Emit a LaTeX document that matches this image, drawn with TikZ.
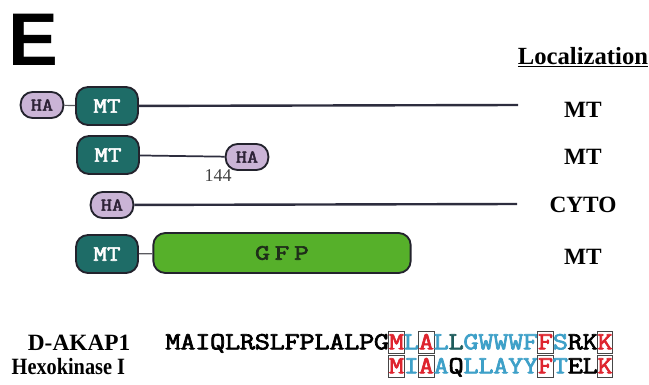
\documentclass[tikz,border=0pt]{standalone}
\usepackage{fontspec}
\usepackage{graphicx}
\setmainfont{Liberation Serif}
\newfontfamily\headfont{Liberation Sans}
\newfontfamily\seqfont{Latin Modern Mono}[FakeBold=2.5]

\definecolor{mtteal}{RGB}{30,108,103}
\definecolor{halav}{RGB}{202,180,214}
\definecolor{hatext}{RGB}{45,35,55}
\definecolor{gfpgreen}{RGB}{86,176,42}
\definecolor{gfptext}{RGB}{30,45,25}
\definecolor{edgedark}{RGB}{35,35,45}
\definecolor{linedark}{RGB}{45,45,62}
\definecolor{linkgray}{RGB}{90,90,95}
\definecolor{aablue}{RGB}{62,160,200}
\definecolor{aateal}{RGB}{30,92,92}
\definecolor{aared}{RGB}{222,36,46}
\definecolor{boxgray}{RGB}{70,70,70}

\newcommand{\wide}[1]{\scalebox{1.2}[1]{#1}}

\tikzset{
  dom/.style={rectangle, rounded corners=9pt, draw=edgedark, line width=1.4pt, inner sep=0pt,
    font=\seqfont\fontsize{16.5}{16.5}\selectfont},
  mtbox/.style={dom, fill=mtteal, text=white, minimum width=46.5pt, minimum height=28.5pt},
  habox/.style={dom, rounded corners=9pt, fill=halav, text=hatext, minimum width=32pt, minimum height=19.5pt,
    font=\seqfont\fontsize{13.5}{13.5}\selectfont},
  gfpbox/.style={dom, fill=gfpgreen, text=gfptext, minimum width=193pt, minimum height=30pt},
  chain/.style={draw=linedark, line width=1.8pt},
  link/.style={draw=linkgray, line width=0.9pt},
  loc/.style={font=\bfseries\fontsize{17.5}{17.5}\selectfont},
  aa/.style={inner sep=0pt, minimum width=11.25pt, minimum height=16.5pt, text height=11pt, text depth=0pt,
    font=\seqfont\fontsize{18.5}{18.5}\selectfont},
  aak/.style={aa, text=black},
  aab/.style={aa, text=aablue},
  aat/.style={aa, text=aateal},
  aar/.style={aa, text=aared, draw=boxgray, line width=0.6pt}
}

\begin{document}
\begin{tikzpicture}[x=0.75pt, y=-0.75pt]
  \useasboundingbox (0,0) rectangle (649,385);

  \node[font=\headfont\bfseries\fontsize{56}{56}\selectfont] (panel) at (33,40) {E};
  \node[loc, font=\bfseries\fontsize{18.5}{18.5}\selectfont] (loctitle) at (583,57) {\underline{Localization}};

  % constructs
  \node[habox] (ha1) at (42,105) {\wide{HA}};
  \node[mtbox] (mt1) at (107,106) {\wide{MT}};
  \coordinate (e1) at (518,105);
  \draw[link] (ha1) -- (mt1);
  \draw[chain] (mt1) -- (e1);

  \node[mtbox] (mt2) at (108,155) {\wide{MT}};
  \node[habox] (ha2) at (247,157) {\wide{HA}};
  \node[text=black!75, font=\fontsize{13.5}{13.5}\selectfont] (pos2) at (218,176) {144};
  \draw[chain, line width=1.3pt] (mt2) -- (ha2);

  \node[habox] (ha3) at (112,205) {\wide{HA}};
  \coordinate (e3) at (517,204);
  \draw[chain] (ha3) -- (e3);

  \node[mtbox] (mt4) at (107,254) {\wide{MT}};
  \node[gfpbox] (gfp4) at (282,253) {\scalebox{1.3}[1]{G\,F\,P}};
  \draw[link] (mt4) -- (gfp4);

  \foreach \t/\y [count=\i] in {MT/110,MT/157,CYTO/205,MT/257}
    \node[loc] (loc\i) at (583,\y) {\t};

  % sequences
  \node[anchor=east, font=\bfseries\fontsize{17.5}{17.5}\selectfont] (dlab) at (135,343) {D-AKAP1};
  \node[anchor=west, font=\bfseries\fontsize{17.5}{17.5}\selectfont] (hlab) at (7,367) {\scalebox{0.87}[1]{Hexokinase I}};

  \foreach \ch/\st [count=\i] in {M/aak,A/aak,I/aak,Q/aak,L/aak,R/aak,S/aak,L/aak,F/aak,P/aak,L/aak,A/aak,L/aak,P/aak,G/aak,M/aar,L/aab,A/aar,L/aab,L/aat,G/aab,W/aab,W/aab,W/aab,F/aab,F/aar,S/aab,R/aak,K/aak,K/aar}
    \node[\st] (d\i) at ({158.1+14.9*\i},342) {\wide{\ch}};
  \foreach \ch/\st [count=\i] in {M/aar,I/aab,A/aar,A/aab,Q/aak,L/aab,L/aab,A/aab,Y/aab,Y/aab,F/aar,T/aab,E/aak,L/aak,K/aar}
    \node[\st] (h\i) at ({381.6+14.9*\i},366) {\wide{\ch}};
\end{tikzpicture}
\end{document}
